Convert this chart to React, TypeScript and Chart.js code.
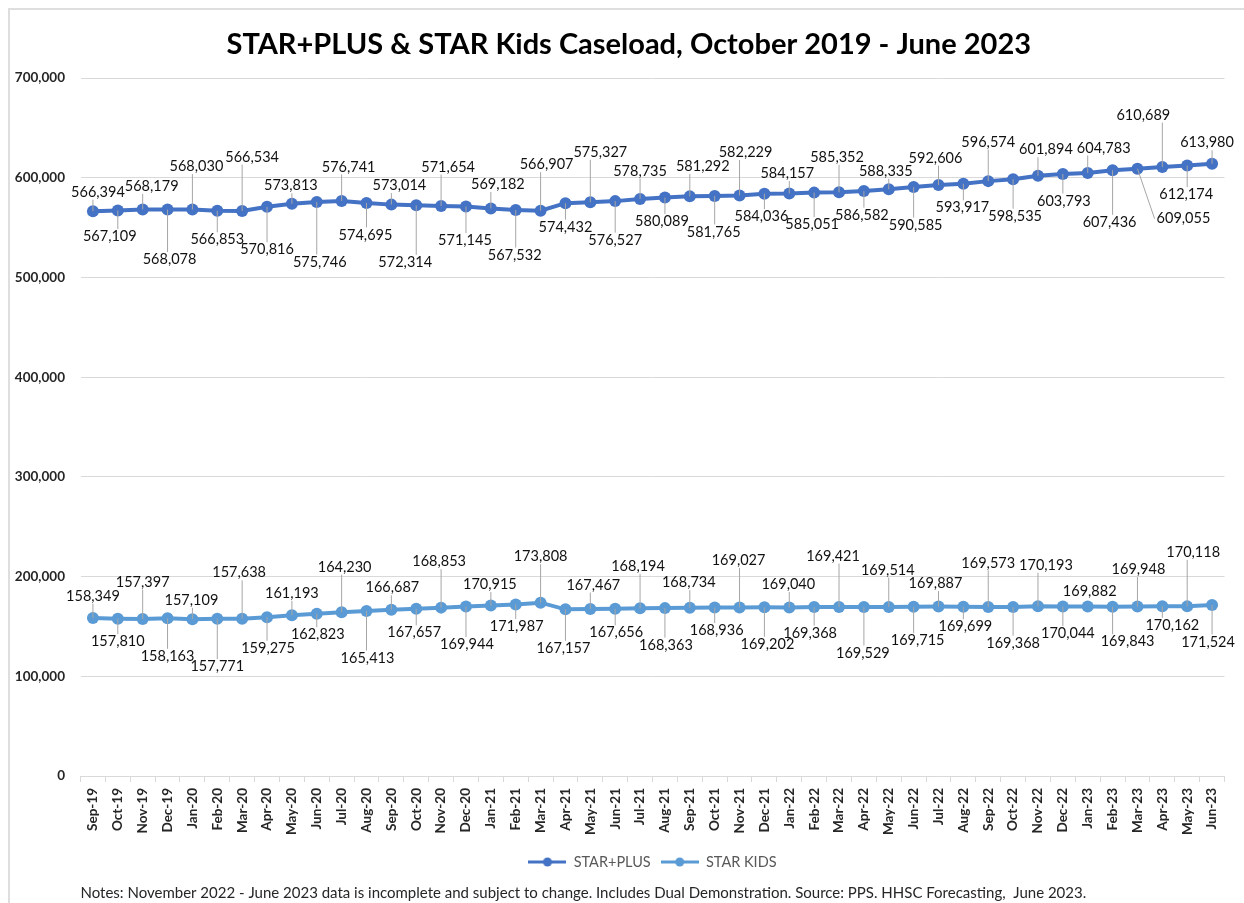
import React, { useEffect, useRef } from "react";
import { Chart, registerables } from "chart.js";

Chart.register(...registerables);

const FONT = "Lato, 'Open Sans', 'DejaVu Sans', sans-serif";

const chartTitle = "STAR+PLUS & STAR Kids Caseload, October 2019 - June 2023";
const notesText =
  "Notes: November 2022 - June 2023 data is incomplete and subject to change. Includes Dual Demonstration. Source: PPS. HHSC Forecasting,  June 2023.";

const months = [
  "Sep-19", "Oct-19", "Nov-19", "Dec-19",
  "Jan-20", "Feb-20", "Mar-20", "Apr-20", "May-20", "Jun-20", "Jul-20", "Aug-20", "Sep-20", "Oct-20", "Nov-20", "Dec-20",
  "Jan-21", "Feb-21", "Mar-21", "Apr-21", "May-21", "Jun-21", "Jul-21", "Aug-21", "Sep-21", "Oct-21", "Nov-21", "Dec-21",
  "Jan-22", "Feb-22", "Mar-22", "Apr-22", "May-22", "Jun-22", "Jul-22", "Aug-22", "Sep-22", "Oct-22", "Nov-22", "Dec-22",
  "Jan-23", "Feb-23", "Mar-23", "Apr-23", "May-23", "Jun-23",
];

const starPlus = [
  566394, 567109, 568179, 568078,
  568030, 566853, 566534, 570816, 573813, 575746, 576741, 574695, 573014, 572314, 571654, 571145,
  569182, 567532, 566907, 574432, 575327, 576527, 578735, 580089, 581292, 581765, 582229, 584036,
  584157, 585051, 585352, 586582, 588335, 590585, 592606, 593917, 596574, 598535, 601894, 603793,
  604783, 607436, 609055, 610689, 612174, 613980,
];

const starKids = [
  158349, 157810, 157397, 158163,
  157109, 157771, 157638, 159275, 161193, 162823, 164230, 165413, 166687, 167657, 168853, 169944,
  170915, 171987, 173808, 167157, 167467, 167656, 168194, 168363, 168734, 168936, 169027, 169202,
  169040, 169368, 169421, 169529, 169514, 169715, 169887, 169699, 169573, 169368, 170193, 170044,
  169882, 169843, 169948, 170162, 170118, 171524,
];

const yTicks = [0, 100000, 200000, 300000, 400000, 500000, 600000, 700000];

// data-label placement (offset of the label from its point, px)
const plusLabelDx = [
  5, -8, 9, 2, 4, 0, 10, 0, -1, 3, 7, -1, 8, -11, 7, -1, 7, -1, 6, 0, 10, 0, 0, -3, 13, -1, 6, -3,
  -2, -2, -2, -2, -3, 2, -3, -1, 0, 2, 8, 1, 16, -3, 46, -19, -1, -5,
];
const plusLabelDy = [
  -19, 26, -23, 50, -43, 29, -54, 43, -18, 60, -34, 32, -19, 57, -39, 34, -24, 45, -46, 24, -50, 39, -28, 24, -30, 36, -43, 23,
  -20, 32, -35, 24, -18, 38, -27, 24, -39, 37, -26, 27, -25, 52, 50, -52, 29, -21,
];
const kidsLabelDx = [
  0, 0, 0, 0, -1, 0, -3, 1, 0, 1, 3, 1, 1, -2, -2, 1, -1, 1, 0, -2, 3, 1, -2, 1, -1, 2, -1, 3,
  -1, -4, -6, -1, -1, 4, -3, 2, 0, 0, 8, 5, 2, 15, 1, 10, 6, -4,
];
const kidsLabelDy = [
  -22, 23, -37, 38, -19, 48, -46, 31, -22, 21, -45, 47, -22, 24, -46, 38, -21, 22, -46, 39, -24, 24, -42, 37, -25, 23, -47, 37,
  -23, 26, -51, 46, -37, 34, -23, 20, -44, 36, -41, 27, -15, 35, -37, 19, -54, 37,
];

const PLUS_COLOR = "#4472C4";
const KIDS_COLOR = "#5B9BD5";

const fmt = (v: number) => v.toLocaleString("en-US");

const labelOffsets = [
  { dx: plusLabelDx, dy: plusLabelDy },
  { dx: kidsLabelDx, dy: kidsLabelDy },
];

const leaderLabelsPlugin = {
  id: "leaderLabels",
  afterDatasetsDraw(chart: any) {
    const ctx = chart.ctx as CanvasRenderingContext2D;
    ctx.save();
    ctx.font = `14.5px ${FONT}`;
    ctx.textAlign = "center";
    ctx.textBaseline = "middle";
    const h = 13;
    chart.data.datasets.forEach((ds: any, di: number) => {
      const meta = chart.getDatasetMeta(di);
      const off = labelOffsets[di];
      meta.data.forEach((pt: any, i: number) => {
        const text = fmt(ds.data[i]);
        const dx = off.dx[i];
        const dy = off.dy[i];
        const lx = pt.x + dx;
        const ly = pt.y + dy;
        const w = ctx.measureText(text).width;
        const gap = Math.abs(dy) - h / 2;
        if (gap > 10) {
          let ex = Math.min(Math.max(pt.x, lx - w / 2), lx + w / 2);
          let ey = dy < 0 ? ly + h / 2 + 1 : ly - h / 2 - 1;
          if (Math.abs(dx) > w / 2) {
            ex = dx > 0 ? lx - w / 2 - 2 : lx + w / 2 + 2;
            ey = ly;
          }
          ctx.strokeStyle = "#a6a6a6";
          ctx.lineWidth = 1;
          ctx.beginPath();
          ctx.moveTo(pt.x, pt.y);
          ctx.lineTo(ex, ey);
          ctx.stroke();
        }
        ctx.fillStyle = "#111";
        ctx.fillText(text, lx, ly);
      });
    });
    ctx.restore();
  },
};

function legendSwatch(color: string): HTMLCanvasElement {
  const c = document.createElement("canvas");
  c.width = 38;
  c.height = 12;
  const g = c.getContext("2d")!;
  g.strokeStyle = color;
  g.lineWidth = 3;
  g.beginPath();
  g.moveTo(0, 6);
  g.lineTo(38, 6);
  g.stroke();
  g.fillStyle = color;
  g.beginPath();
  g.arc(19, 6, 4.5, 0, Math.PI * 2);
  g.fill();
  return c;
}

export default function App() {
  const canvasRef = useRef<HTMLCanvasElement | null>(null);

  useEffect(() => {
    if (!canvasRef.current) return;
    Chart.defaults.font.family = FONT;
    const swatches = [legendSwatch(PLUS_COLOR), legendSwatch(KIDS_COLOR)];
    const chart = new Chart(canvasRef.current, {
      type: "line",
      data: {
        labels: months,
        datasets: [
          {
            label: "STAR+PLUS",
            data: starPlus,
            borderColor: PLUS_COLOR,
            backgroundColor: PLUS_COLOR,
            pointBackgroundColor: PLUS_COLOR,
            pointBorderColor: PLUS_COLOR,
            borderWidth: 4,
            pointRadius: 6,
            pointBorderWidth: 0,
            tension: 0,
          },
          {
            label: "STAR KIDS",
            data: starKids,
            borderColor: KIDS_COLOR,
            backgroundColor: KIDS_COLOR,
            pointBackgroundColor: KIDS_COLOR,
            pointBorderColor: KIDS_COLOR,
            borderWidth: 4,
            pointRadius: 6,
            pointBorderWidth: 0,
            tension: 0,
          },
        ],
      },
      options: {
        animation: false,
        responsive: false,
        devicePixelRatio: 1,
        layout: { padding: { left: 23, right: 19.5, top: 0, bottom: 1 } },
        plugins: {
          title: {
            display: true,
            text: chartTitle,
            color: "#000",
            font: { family: FONT, size: 29, weight: "bold" },
            padding: { top: 17.6, bottom: 15.6 },
          },
          subtitle: {
            display: true,
            position: "bottom",
            align: "start",
            fullSize: false,
            text: notesText,
            color: "#262626",
            font: { family: FONT, size: 15, weight: "normal" },
            padding: { top: 4.75, bottom: 0 },
          },
          legend: {
            display: true,
            position: "bottom",
            fullSize: false,
            labels: {
              color: "#595959",
              font: { family: FONT, size: 14.5 },
              usePointStyle: true,
              pointStyleWidth: 38,
              boxHeight: 12,
              padding: 10,
              generateLabels: (ch: any) => {
                const items = Chart.defaults.plugins.legend.labels.generateLabels(ch);
                return items.map((it: any, i: number) => ({ ...it, pointStyle: swatches[i] }));
              },
            },
          },
          tooltip: { enabled: false },
        },
        scales: {
          x: {
            type: "category",
            offset: true,
            afterFit: (s: any) => {
              s.height = 68.75;
            },
            grid: {
              display: true,
              drawOnChartArea: false,
              drawTicks: true,
              tickLength: 6,
              color: "#d9d9d9",
              offset: true,
            },
            border: { display: true, color: "#d9d9d9", width: 1 },
            ticks: {
              autoSkip: false,
              maxRotation: 90,
              minRotation: 90,
              padding: 6,
              color: "#262626",
              font: { family: FONT, size: 13.5, weight: "bold" },
            },
          },
          y: {
            min: 0,
            max: 700000,
            afterFit: (s: any) => {
              s.width = 47.5;
            },
            afterUpdate: (s: any) => {
              // let the tick labels extend left of the axis box without clipping
              s._computeLabelArea = () => undefined;
            },
            afterBuildTicks: (s: any) => {
              s.ticks = yTicks.map((v) => ({ value: v }));
            },
            grid: { color: "#d9d9d9", lineWidth: 1, drawTicks: false },
            border: { display: false },
            ticks: {
              padding: 15.5,
              color: "#262626",
              font: { family: FONT, size: 13.5, weight: "bold" },
              callback: (v: any) => fmt(Number(v)),
            },
          },
        },
      },
      plugins: [leaderLabelsPlugin],
    } as any);
    return () => chart.destroy();
  }, []);

  return (
    <div
      style={{
        position: "fixed",
        left: 8,
        top: 8,
        width: 1236,
        height: 895,
        boxSizing: "border-box",
        borderTop: "2px solid #dedede",
        borderLeft: "2px solid #dedede",
        background: "#fff",
        overflow: "hidden",
      }}
    >
      <canvas ref={canvasRef} width={1234} height={893} style={{ display: "block" }} />
    </div>
  );
}
